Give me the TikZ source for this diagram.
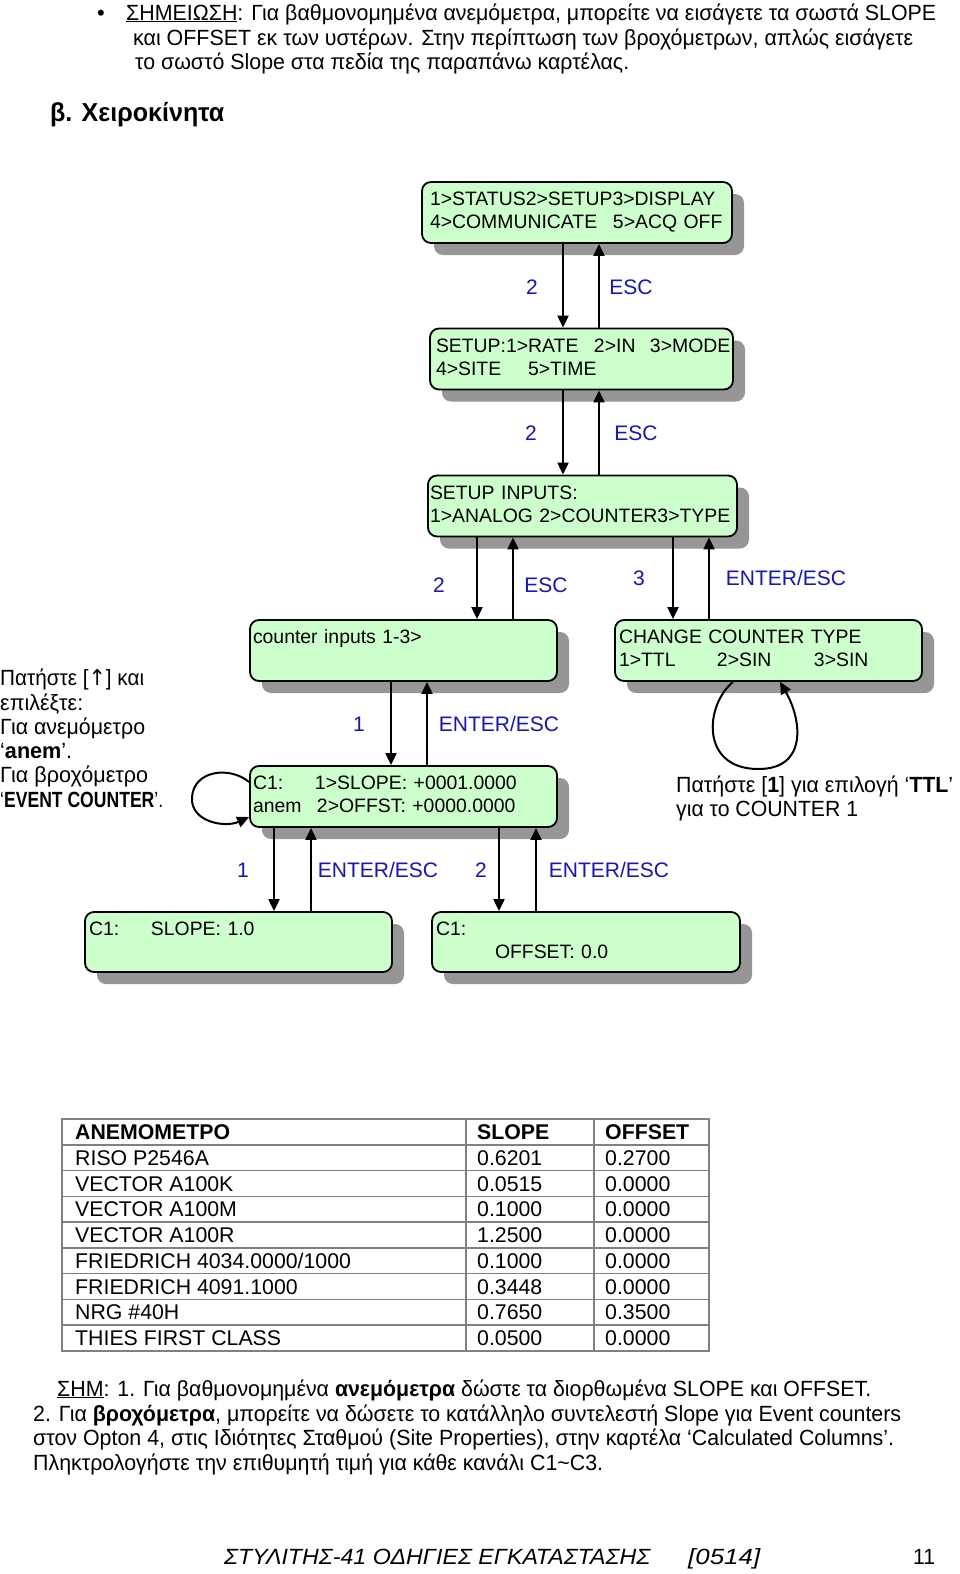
\documentclass[tikz,border=0pt]{standalone}
\usepackage{fontspec}
\usepackage{graphicx}
\setmainfont{Liberation Sans}
\newfontfamily\arrowsym{DejaVu Sans}
\usetikzlibrary{arrows.meta,shadows}
\definecolor{boxgreen}{HTML}{CCFFCC}
\definecolor{shadowgray}{HTML}{969696}
\definecolor{lblblue}{RGB}{20,20,200}
\definecolor{tablegray}{HTML}{808080}
\newcommand\diagfont{\fontsize{19.4pt}{23pt}\selectfont}
\newcommand\lblfont{\fontsize{21pt}{25pt}\selectfont}
\newcommand\bodyfont{\fontsize{22pt}{26pt}\selectfont}
\newcommand\tabfont{\fontsize{21.3pt}{25pt}\selectfont}
\newcommand\fitw[2]{\resizebox{#1pt}{\height}{#2}}
\tikzset{
  scrbox/.style={draw=black, line width=1.8pt, rounded corners=9pt, fill=boxgreen,
    drop shadow={shadow xshift=12pt, shadow yshift=-12pt, fill=shadowgray, opacity=1},
    minimum height=61pt, align=left, font=\diagfont, inner ysep=0pt},
  lbl/.style={text=lblblue, font=\lblfont, inner sep=0pt},
  arr/.style={-{Triangle[length=12pt,width=11pt]}, line width=2pt},
  txt/.style={anchor=base west, inner sep=0pt, font=\bodyfont},
  cell/.style={anchor=base west, inner sep=0pt, font=\tabfont},
  tline/.style={draw=tablegray, line width=1.5pt},
}
\begin{document}
\begin{tikzpicture}[x=1pt,y=-1pt]
\useasboundingbox[fill=white] (0,0) rectangle (960,1574);

% top text
\node[txt] (bul) at (97,20) {•};
\node[txt] (t1) at (126,20) {\fitw{810}{\underline{ΣΗΜΕΙΩΣΗ}: Για βαθμονομημένα ανεμόμετρα, μπορείτε να εισάγετε τα σωστά SLOPE}};
\node[txt] (t2) at (133,45) {\fitw{780}{και OFFSET εκ των υστέρων. Στην περίπτωση των βροχόμετρων, απλώς εισάγετε}};
\node[txt] (t3) at (135,69) {\fitw{494}{το σωστό Slope στα πεδία της παραπάνω καρτέλας.}};
\node[txt, font=\fontsize{26pt}{30pt}\selectfont] (hd) at (50,121) {\fitw{174}{\bfseries β. Χειροκίνητα}};

% boxes
\node[scrbox, minimum width=310pt, text width=294pt, inner xsep=8pt] (b1) at (577,212.5)
  {\strut 1>STATUS2>SETUP3>DISPLAY\\\strut\makebox[183pt][l]{4>COMMUNICATE}5>ACQ OFF};
\node[scrbox, minimum width=303pt, text width=291pt, inner xsep=6pt] (b2) at (581.5,359)
  {\strut\makebox[158pt][l]{SETUP:1>RATE}\makebox[56pt][l]{2>IN}3>MODE\\\strut\makebox[92pt][l]{4>SITE}5>TIME};
\node[scrbox, minimum width=309pt, text width=305pt, inner xsep=2pt] (b3) at (582.5,506)
  {\strut SETUP INPUTS:\\\strut 1>ANALOG 2>COUNTER3>TYPE};
\node[scrbox, minimum width=307pt, text width=301pt, inner xsep=3pt] (b4) at (403.5,650.5)
  {\strut counter inputs 1-3>\\\strut};
\node[scrbox, minimum width=307pt, text width=301pt, inner xsep=3pt] (b5) at (403.5,796.5)
  {\strut\makebox[62pt][l]{C1:}1>SLOPE: +0001.0000\\\strut\makebox[64pt][l]{anem}2>OFFST: +0000.0000};
\node[scrbox, minimum width=307pt, text width=299pt, inner xsep=4pt] (b6) at (768.5,650.5)
  {\strut CHANGE COUNTER TYPE\\\strut\makebox[98pt][l]{1>TTL}\makebox[97pt][l]{2>SIN}3>SIN};
\node[scrbox, minimum width=307pt, minimum height=60pt, text width=299pt, inner xsep=4pt] (b7) at (238.5,942)
  {\strut\makebox[62pt][l]{C1:}SLOPE: 1.0\\\strut};
\node[scrbox, minimum width=308pt, minimum height=60pt, text width=300pt, inner xsep=4pt] (b8) at (586,942)
  {\strut C1:\\\strut\hspace*{59pt}OFFSET: 0.0};

% connector columns
\coordinate (xa) at (563,0);  \coordinate (xb) at (599,0);
\coordinate (xc) at (477,0);  \coordinate (xd) at (513,0);
\coordinate (xe) at (673,0);  \coordinate (xf) at (709,0);
\coordinate (xg) at (391,0);  \coordinate (xh) at (427,0);
\coordinate (xi) at (274,0);  \coordinate (xj) at (311,0);
\coordinate (xk) at (499,0);  \coordinate (xl) at (536,0);

\draw[arr] (b1.south -| xa) -- (b2.north -| xa);
\draw[arr] (b2.north -| xb) -- (b1.south -| xb);
\draw[arr] (b2.south -| xa) -- (b3.north -| xa);
\draw[arr] (b3.north -| xb) -- (b2.south -| xb);
\draw[arr] (b3.south -| xc) -- (b4.north -| xc);
\draw[arr] (b4.north -| xd) -- (b3.south -| xd);
\draw[arr] (b3.south -| xe) -- (b6.north -| xe);
\draw[arr] (b6.north -| xf) -- (b3.south -| xf);
\draw[arr] (b4.south -| xg) -- (b5.north -| xg);
\draw[arr] (b5.north -| xh) -- (b4.south -| xh);
\draw[arr] (b5.south -| xi) -- (b7.north -| xi);
\draw[arr] (b7.north -| xj) -- (b5.south -| xj);
\draw[arr] (b5.south -| xk) -- (b8.north -| xk);
\draw[arr] (b8.north -| xl) -- (b5.south -| xl);

% loops
\coordinate (ly1) at (0,782); \coordinate (ly2) at (0,817);
\draw[arr] (b5.west |- ly1) .. controls (230,766) and (194,770) .. (192,797)
  .. controls (190,822) and (225,828) .. (b5.west |- ly2);
\coordinate (lx1) at (733,0); \coordinate (lx2) at (780,0);
\draw[arr] (b6.south -| lx1) .. controls (705,705) and (700,768) .. (757,769)
  .. controls (808,770) and (802,720) .. (b6.south -| lx2);

% labels
\node[lbl] (l1) at (532,287) {2};
\node[lbl] (l2) at (631,287) {ESC};
\node[lbl] (l3) at (531,433) {2};
\node[lbl] (l4) at (636,433) {ESC};
\node[lbl] (l5) at (439,585) {2};
\node[lbl] (l6) at (546,585) {ESC};
\node[lbl] (l7) at (639,578) {3};
\node[lbl] (l8) at (786,578) {ENTER/ESC};
\node[lbl] (l9) at (359,724) {1};
\node[lbl] (l10) at (499,724) {ENTER/ESC};
\node[lbl] (l11) at (243,870) {1};
\node[lbl] (l12) at (378,870) {ENTER/ESC};
\node[lbl] (l13) at (481,870) {2};
\node[lbl] (l14) at (609,870) {ENTER/ESC};

% side notes
\node[txt] (n1) at (0,685) {\fitw{144}{Πατήστε [{\arrowsym ↑}] και}};
\node[txt] (n2) at (0,710) {\fitw{83}{επιλέξτε:}};
\node[txt] (n3) at (0,734) {\fitw{145}{Για ανεμόμετρο}};
\node[txt] (n4) at (0,758) {\fitw{72}{‘\textbf{anem}’.}};
\node[txt] (n5) at (0,782) {\fitw{148}{Για βροχόμετρο}};
\node[txt] (n6) at (0,807) {\fitw{163}{‘\textbf{EVENT COUNTER}’.}};
\node[txt] (n7) at (676,792) {\fitw{277}{Πατήστε [\textbf{1}] για επιλογή ‘\textbf{TTL}’}};
\node[txt] (n8) at (676,816) {\fitw{182}{για το COUNTER 1}};

% table
\foreach \yy in {1144.8,1170.6,1196.3,1222.1,1247.9,1273.7,1299.4,1325.2}
  \draw[tline] (62,\yy) -- (709,\yy);
\draw[tline] (466,1119) -- (466,1351);
\draw[tline] (594,1119) -- (594,1351);
\draw[tline] (62,1119) rectangle (709,1351);
\node[cell] (h1) at (75,1139.5) {\textbf{ΑΝΕΜΟΜΕΤΡΟ}};
\node[cell] (h2) at (477,1139.5) {\textbf{SLOPE}};
\node[cell] (h3) at (605,1139.5) {\textbf{OFFSET}};
\foreach [count=\i] \a/\b/\c in {RISO P2546A/0.6201/0.2700, VECTOR A100K/0.0515/0.0000,
  VECTOR A100M/0.1000/0.0000, VECTOR A100R/1.2500/0.0000, FRIEDRICH 4034.0000\slash 1000/0.1000/0.0000,
  FRIEDRICH 4091.1000/0.3448/0.0000, NRG \#40H/0.7650/0.3500, THIES FIRST CLASS/0.0500/0.0000} {
  \node[cell] (r\i a) at (75,{1139.5+25.78*\i}) {\a};
  \node[cell] (r\i b) at (477,{1139.5+25.78*\i}) {\b};
  \node[cell] (r\i c) at (605,{1139.5+25.78*\i}) {\c};
}

% bottom notes
\node[txt] (m1) at (57,1396) {\fitw{814}{\underline{ΣΗΜ}: 1. Για βαθμονομημένα \textbf{ανεμόμετρα} δώστε τα διορθωμένα SLOPE και OFFSET.}};
\node[txt] (m2) at (33,1421) {\fitw{868}{2. Για \textbf{βροχόμετρα}, μπορείτε να δώσετε το κατάλληλο συντελεστή Slope για Event counters}};
\node[txt] (m3) at (33,1445) {\fitw{861}{στον Opton 4, στις Ιδιότητες Σταθμού (Site Properties), στην καρτέλα ‘Calculated Columns’.}};
\node[txt] (m4) at (33,1470) {\fitw{570}{Πληκτρολογήστε την επιθυμητή τιμή για κάθε κανάλι C1\textasciitilde C3.}};

% footer
\node[txt, font=\fontsize{22pt}{26pt}\selectfont] (f1) at (224,1564) {\fitw{426}{\itshape ΣΤΥΛΙΤΗΣ-41 ΟΔΗΓΙΕΣ ΕΓΚΑΤΑΣΤΑΣΗΣ}};
\node[txt, font=\fontsize{22pt}{26pt}\selectfont] (f2) at (688,1564) {\fitw{72}{\itshape [0514]}};
\node[txt, font=\fontsize{22pt}{26pt}\selectfont] (f3) at (913,1564) {\fitw{22}{11}};
\end{tikzpicture}
\end{document}
